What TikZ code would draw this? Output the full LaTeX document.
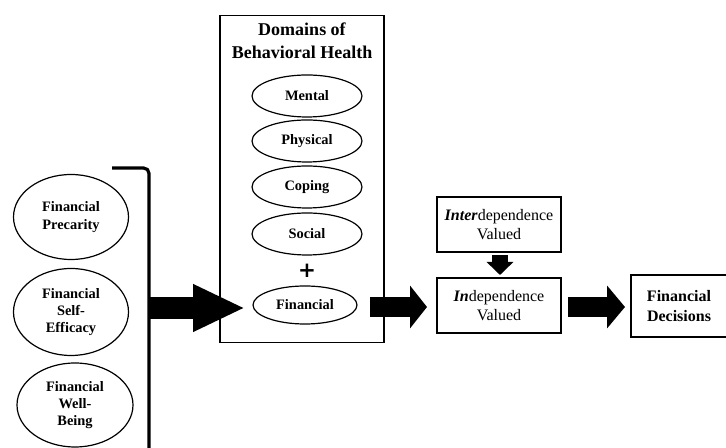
\documentclass[tikz,border=0pt]{standalone}
\usepackage{fontspec}
\setmainfont{Liberation Serif}
\newfontfamily\plusfont{DejaVu Sans}
\usetikzlibrary{arrows.meta,shapes.geometric}
\begin{document}
\begin{tikzpicture}[x=0.75pt,y=-0.75pt,
  ell/.style={draw,ellipse,line width=0.9pt,inner sep=0pt,font=\bfseries\fontsize{10.8}{13}\selectfont,align=center},
  box/.style={draw,line width=0.9pt,inner sep=0pt,align=center,font=\fontsize{12}{14.5}\selectfont}]
\useasboundingbox (0,0) rectangle (726,448);
% Domains box
\node[draw,line width=0.9pt,minimum width=164*0.75pt,minimum height=327*0.75pt,inner sep=0pt] (dom) at (302,179) {};
\node[font=\bfseries\fontsize{13.5}{17}\selectfont,align=center] (title) at (302,41) {Domains of\\Behavioral Health};
\node[ell,minimum width=110*0.75pt,minimum height=42*0.75pt] (mental) at (307,96) {Mental};
\node[ell,minimum width=110*0.75pt,minimum height=42*0.75pt] (phys) at (307,141) {Physical};
\node[ell,minimum width=110*0.75pt,minimum height=42*0.75pt] (coping) at (307,187) {Coping};
\node[ell,minimum width=110*0.75pt,minimum height=42*0.75pt] (social) at (307,234) {Social};
\node[font=\plusfont\bfseries\fontsize{16}{16}\selectfont,inner sep=0pt] (plus) at (307,271) {+};
\node[ell,minimum width=104*0.75pt,minimum height=38*0.75pt] (fin) at (305,305) {Financial};
% left ellipses
\node[ell,minimum width=115*0.75pt,minimum height=85*0.75pt] (prec) at (71,217) {Financial\\Precarity};
\node[ell,minimum width=115*0.75pt,minimum height=87*0.75pt] (self) at (71,312) {Financial\\Self-\\Efficacy};
\node[ell,minimum width=116*0.75pt,minimum height=84*0.75pt] (well) at (75,405) {Financial\\Well-\\Being};
% bracket
\coordinate (btop) at (112,168);
\coordinate (bbot) at (149,450);
\draw[line width=2.4pt,rounded corners=4pt] (btop) -| (bbot);
\coordinate (bmid) at (149,308);
\coordinate (bigtip) at (245,308);
\draw[line width=16pt,-{Triangle[length=52*0.75pt,width=44*0.75pt]}] (bmid) -- (bigtip);
% right boxes
\node[box,minimum width=124*0.75pt,minimum height=55*0.75pt] (inter) at (499,224.5) {\textbf{\textit{Inter}}dependence\\Valued};
\node[box,minimum width=124*0.75pt,minimum height=55*0.75pt] (indep) at (499,305.5) {\textbf{\textit{In}}dependence\\Valued};
\node[box,minimum width=96*0.75pt,minimum height=62*0.75pt,font=\bfseries\fontsize{12}{14.5}\selectfont] (dec) at (679,306) {Financial\\Decisions};
% arrows
\coordinate (a2s) at (370,307);
\coordinate (a2e) at (427,307);
\draw[line width=15pt,-{Triangle[length=17*0.75pt,width=42*0.75pt]}] (a2s) -- (a2e);
\coordinate (a3s) at (568,307);
\coordinate (a3e) at (625,307);
\draw[line width=15pt,-{Triangle[length=18*0.75pt,width=42*0.75pt]}] (a3s) -- (a3e);
\coordinate (a4s) at (500,255);
\coordinate (a4e) at (500,275);
\draw[line width=12pt,-{Triangle[length=13*0.75pt,width=26*0.75pt]}] (a4s) -- (a4e);
\end{tikzpicture}
\end{document}
